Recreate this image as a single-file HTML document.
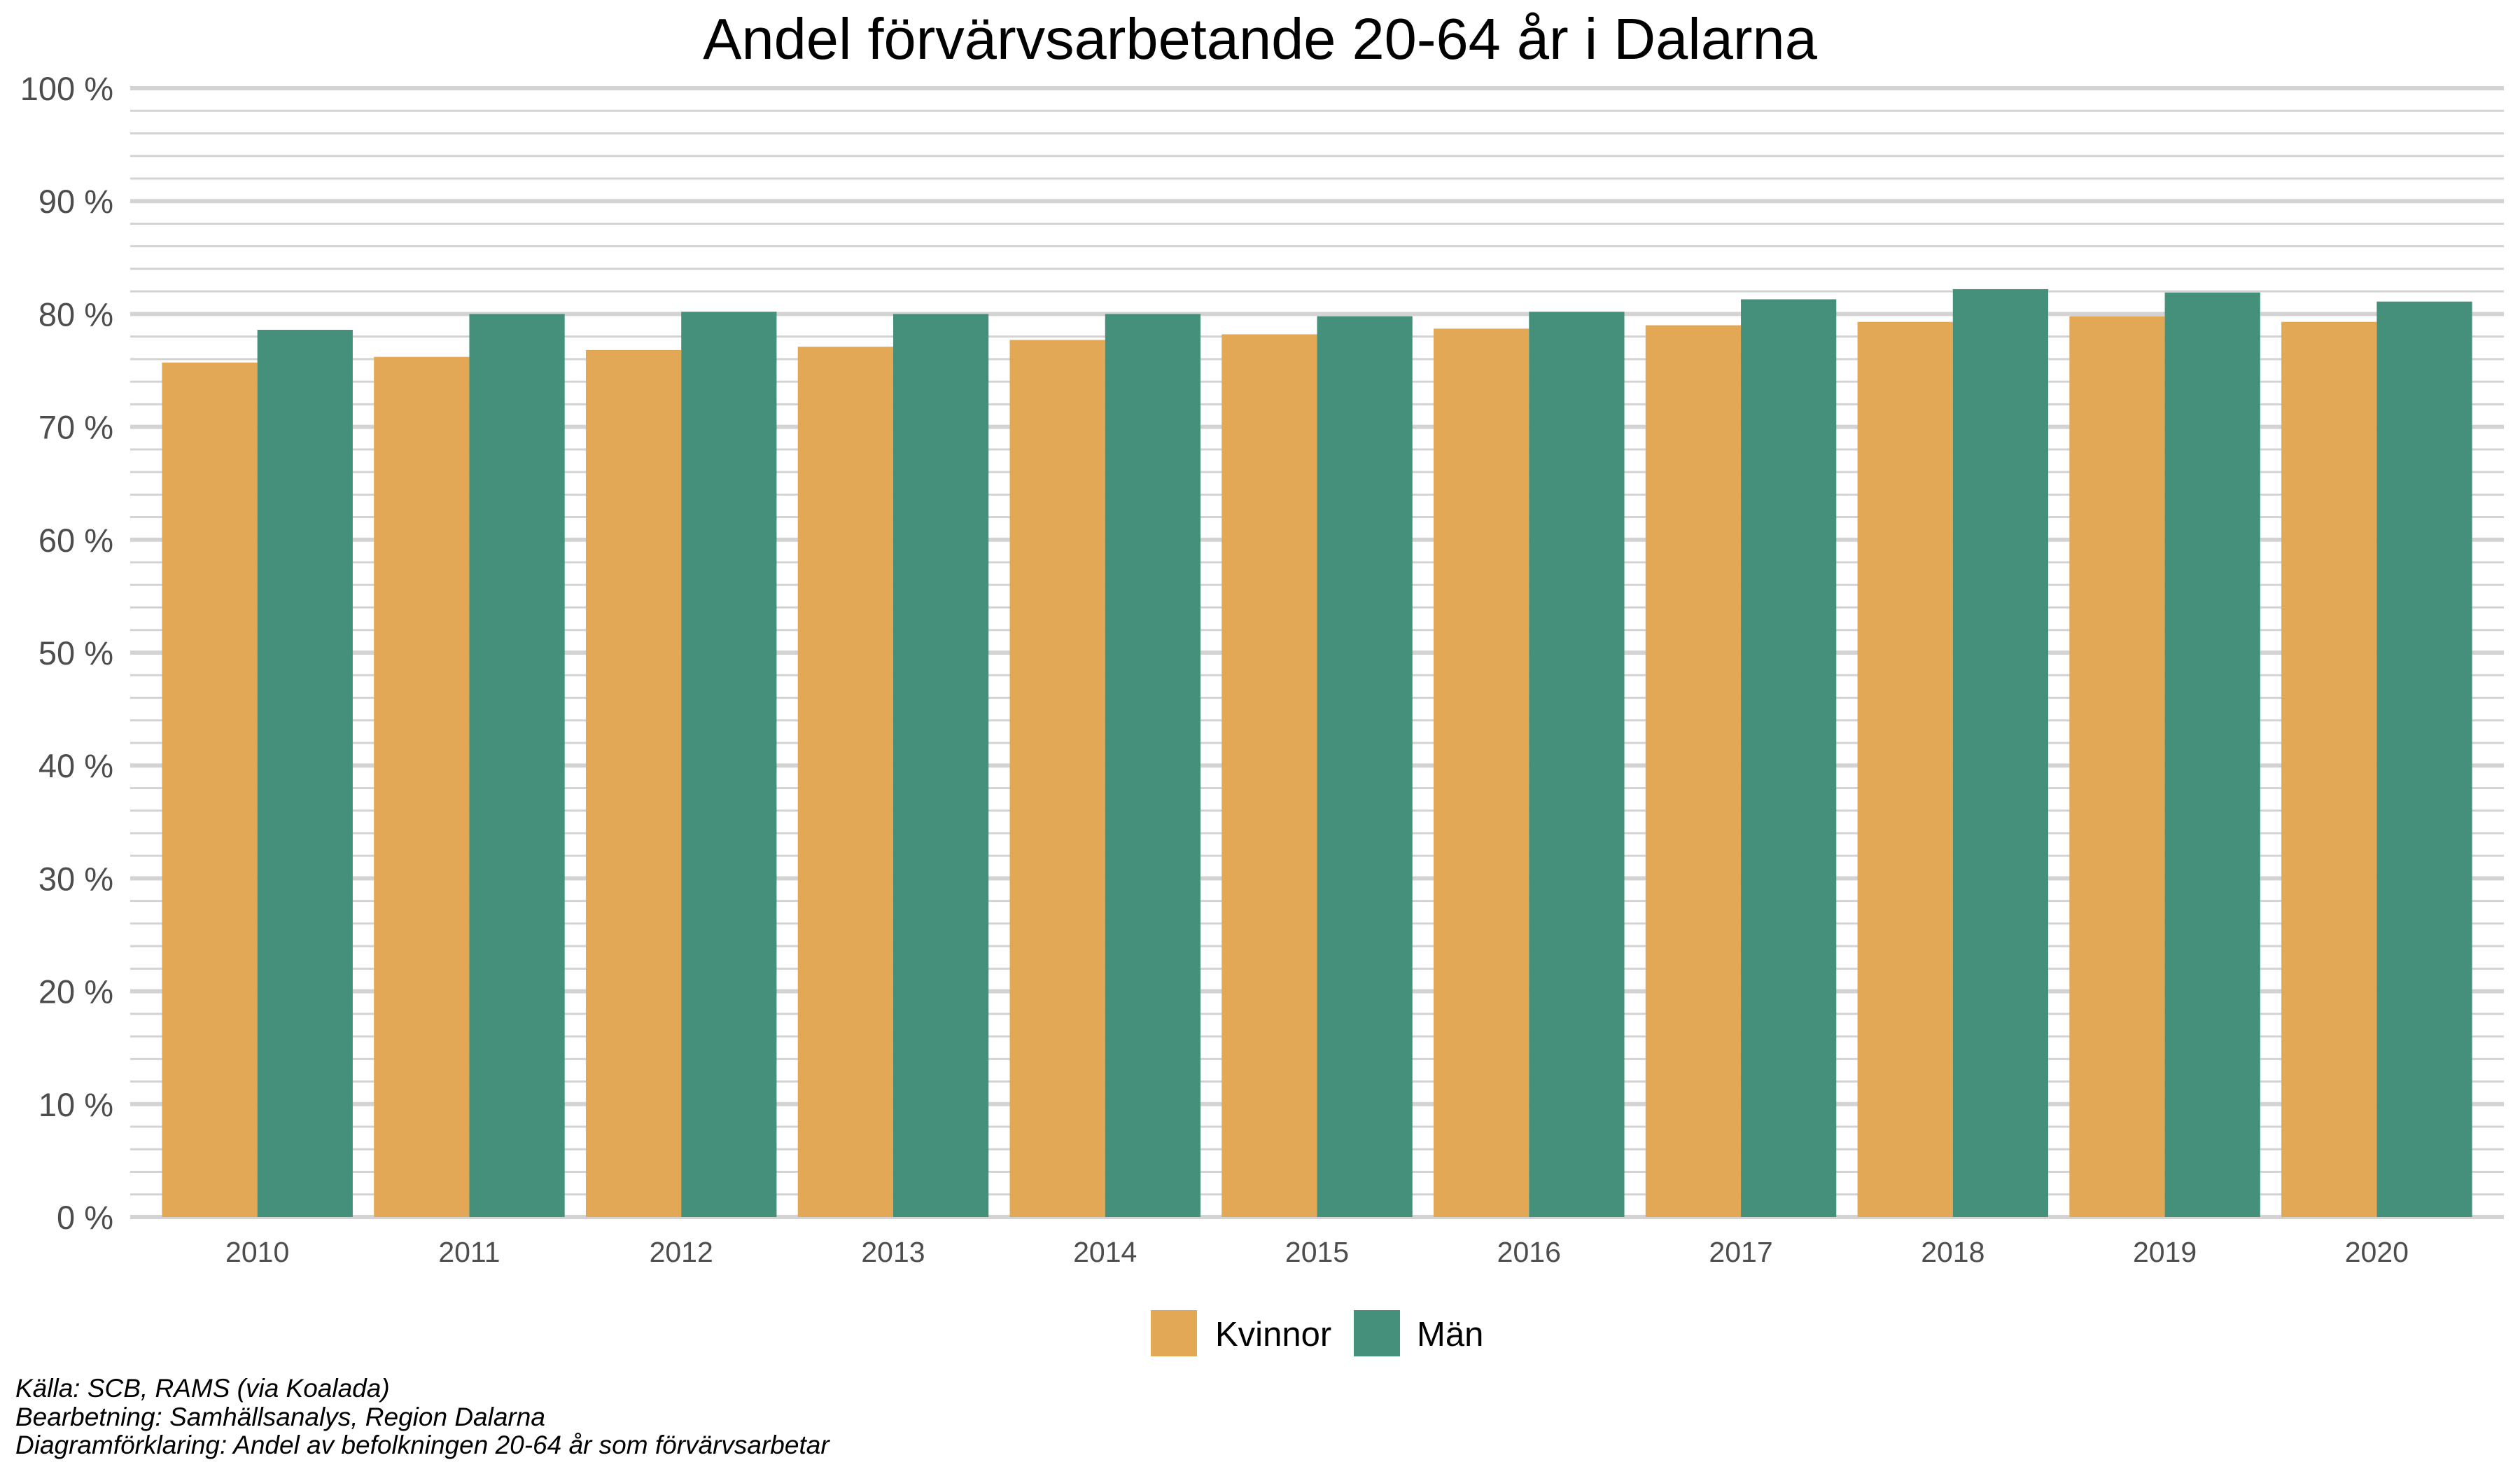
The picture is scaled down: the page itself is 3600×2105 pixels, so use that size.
<!DOCTYPE html>
<html><head><meta charset="utf-8"><style>
html,body{margin:0;padding:0;background:#fff;}
body{width:3600px;height:2100px;overflow:hidden;font-family:"Liberation Sans",sans-serif;}
</style></head>
<body>
<svg id="chart" width="3600" height="2100" xmlns="http://www.w3.org/2000/svg" font-family="Liberation Sans, sans-serif">
<text x="1800" y="84" text-anchor="middle" font-size="83" fill="#000">Andel förvärvsarbetande 20-64 år i Dalarna</text>
<g id="grid"></g>
<g id="yaxis"></g>
<g id="bars"></g>
<g id="xaxis"></g>
<g>
<rect x="1644" y="1871" width="66" height="66" fill="#e2a855"/>
<text x="1736" y="1922" font-size="49" fill="#000">Kvinnor</text>
<rect x="1934" y="1871" width="66" height="66" fill="#45907a"/>
<text x="2024" y="1922" font-size="49" fill="#000">Män</text>
</g>
<g font-size="37" font-style="italic" fill="#000">
<text x="22" y="1995">Källa: SCB, RAMS (via Koalada)</text>
<text x="22" y="2036">Bearbetning: Samhällsanalys, Region Dalarna</text>
<text x="22" y="2076">Diagramförklaring: Andel av befolkningen 20-64 år som förvärvsarbetar</text>
</g>
</svg>
<script>
const years = ["2010","2011","2012","2013","2014","2015","2016","2017","2018","2019","2020"];
const kvinnor = [75.7, 76.2, 76.8, 77.1, 77.7, 78.2, 78.7, 79.0, 79.3, 79.8, 79.3];
const man = [78.6, 80.0, 80.2, 80.0, 80.0, 79.8, 80.2, 81.3, 82.2, 81.9, 81.1];
const yTicks = [0,10,20,30,40,50,60,70,80,90,100];
const yTickLabels = ["0 %","10 %","20 %","30 %","40 %","50 %","60 %","70 %","80 %","90 %","100 %"];

const NS = "http://www.w3.org/2000/svg";
const L = 186, R = 3577, Y0 = 1738, Y100 = 126;
const step = (R - L) / (years.length + 0.2);
const y = v => Y0 - (v / 100) * (Y0 - Y100);
const xc = i => L + step * (0.6 + i);
function mk(tag, attrs, parent){const e=document.createElementNS(NS,tag);for(const k in attrs)e.setAttribute(k,attrs[k]);parent.appendChild(e);return e;}
const grid = document.getElementById('grid'), yaxis = document.getElementById('yaxis'), bars = document.getElementById('bars'), xaxis = document.getElementById('xaxis');
for (let v = 0; v <= 100; v += 2) {
  const major = v % 10 === 0;
  const ln = mk('line', {x1:L, x2:R, y1:y(v), y2:y(v), stroke:'#d3d3d3', 'stroke-width': major ? 6 : 3}, grid);
  
  
}
yTicks.forEach((t, i) => {
  const tx = mk('text', {x:162, y:y(t)+17, 'text-anchor':'end', 'font-size':47, fill:'#4d4d4d'}, yaxis);
  tx.textContent = yTickLabels[i];
  
  
});
const bw = step * 0.45;
years.forEach((yr, i) => {
  const c = xc(i);
  const b1 = mk('rect', {x:c-bw, y:y(kvinnor[i]), width:bw, height:Y0-y(kvinnor[i]), fill:'#e2a855'}, bars);
  
  
  const b2 = mk('rect', {x:c, y:y(man[i]), width:bw, height:Y0-y(man[i]), fill:'#45907a'}, bars);
  
  
  const tx = mk('text', {x:c, y:1802, 'text-anchor':'middle', 'font-size':41, fill:'#4d4d4d'}, xaxis);
  tx.textContent = yr;
  
  
});
</script>
</body></html>
